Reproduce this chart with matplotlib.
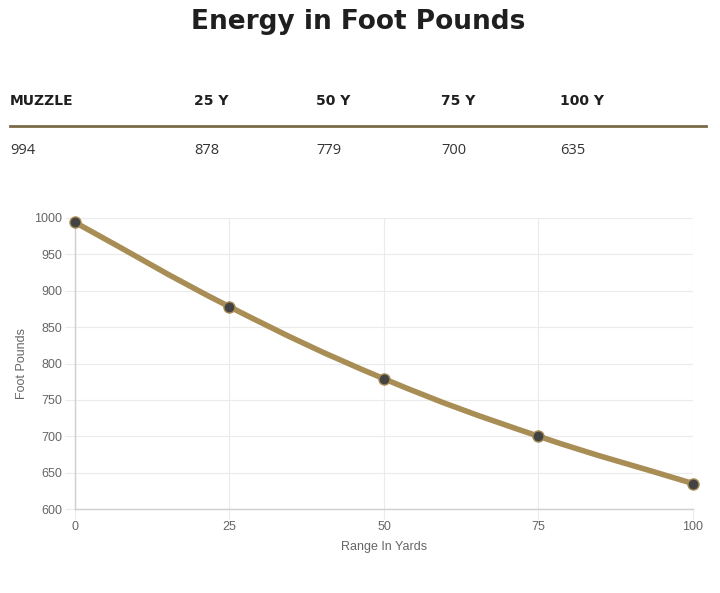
import numpy as np
import matplotlib
matplotlib.use("Agg")
import matplotlib.pyplot as plt
from matplotlib.path import Path
from matplotlib.patches import PathPatch

# data
ranges = [0, 25, 50, 75, 100]
energy = [994, 878, 779, 700, 635]
headers = ["MUZZLE", "25 Y", "50 Y", "75 Y", "100 Y"]
col_x = [10, 194, 316, 441, 560]  # pixel columns of the table

line_col = "#a88d55"
dot_col = "#434343"
grid_col = "#ebebeb"
tick_col = "#666666"

fig = plt.figure(figsize=(7.2, 5.93), dpi=100)
W, H = 720, 593

fig.text(358 / W, 1 - 22 / H, "Energy in Foot Pounds", ha="center", va="center",
         fontsize=19, fontweight="bold", family="DejaVu Sans", color="#1f1f1f")

for h, x in zip(headers, col_x):
    fig.text(x / W, 1 - 101 / H, h, ha="left", va="center", fontsize=10,
             fontweight="bold", family="DejaVu Sans", color="#1f1f1f")
for v, x in zip(energy, col_x):
    fig.text(x / W, 1 - 150 / H, str(v), ha="left", va="center", fontsize=10.5,
             family="Open Sans", color="#333333")
fig.add_artist(plt.Line2D([10 / W, 706 / W], [1 - 126 / H, 1 - 126 / H],
                          color="#7a6a48", lw=2))

ax = fig.add_axes([75 / W, 1 - 509 / H, (693 - 75) / W, (509 - 218) / H])
ax.set_xlim(0, 100)
ax.set_ylim(600, 1000)
ax.set_xticks(ranges)
ax.set_yticks(np.arange(600, 1001, 50))
ax.grid(True, color=grid_col, lw=0.8)
ax.set_axisbelow(True)
for s in ["top", "right"]:
    ax.spines[s].set_visible(False)
for s in ["left", "bottom"]:
    ax.spines[s].set_color("#cfcfcf")
    ax.spines[s].set_linewidth(1)
ax.tick_params(length=7, width=0.8, color=grid_col, labelcolor=tick_col, labelsize=9, pad=2)
for lab in ax.get_xticklabels() + ax.get_yticklabels():
    lab.set_family("Liberation Sans")
ax.set_xlabel("Range In Yards", fontsize=9, color=tick_col, family="Liberation Sans")
ax.set_ylabel("Foot Pounds", fontsize=9, color=tick_col, family="Liberation Sans")
ax.xaxis.set_label_coords(0.5, -(547 - 509) / 291)
ax.yaxis.set_label_coords((22 - 75) / 618, 0.5)
ax.xaxis.label.set_va("center")
ax.yaxis.label.set_va("center")

# smooth curve like chart.js (tension 0.4), control points from the data
xs = np.array(ranges, float)
ys = np.array(energy, float)
nx = (xs - 0) / 100 * 618
ny = (ys - 600) / 400 * 291
t = 0.4
verts = [(xs[0], ys[0])]
codes = [Path.MOVETO]
n = len(xs)
cps = []
for i in range(n):
    p = max(i - 1, 0)
    q = min(i + 1, n - 1)
    d01 = np.hypot(nx[i] - nx[p], ny[i] - ny[p])
    d12 = np.hypot(nx[q] - nx[i], ny[q] - ny[i])
    tot = d01 + d12 if d01 + d12 > 0 else 1
    fa = t * d01 / tot
    fb = t * d12 / tot
    cps.append(((xs[i] - fa * (xs[q] - xs[p]), ys[i] - fa * (ys[q] - ys[p])),
                (xs[i] + fb * (xs[q] - xs[p]), ys[i] + fb * (ys[q] - ys[p]))))
for i in range(n - 1):
    verts += [cps[i][1], cps[i + 1][0], (xs[i + 1], ys[i + 1])]
    codes += [Path.CURVE4] * 3
ax.add_patch(PathPatch(Path(verts, codes), facecolor="none", edgecolor=line_col,
                       lw=4, capstyle="round", clip_on=False, zorder=3))
ax.plot(ranges, energy, "o", ms=8, mfc=dot_col, mec=line_col, mew=1, clip_on=False, zorder=4)

fig.savefig("out.png", dpi=100)
